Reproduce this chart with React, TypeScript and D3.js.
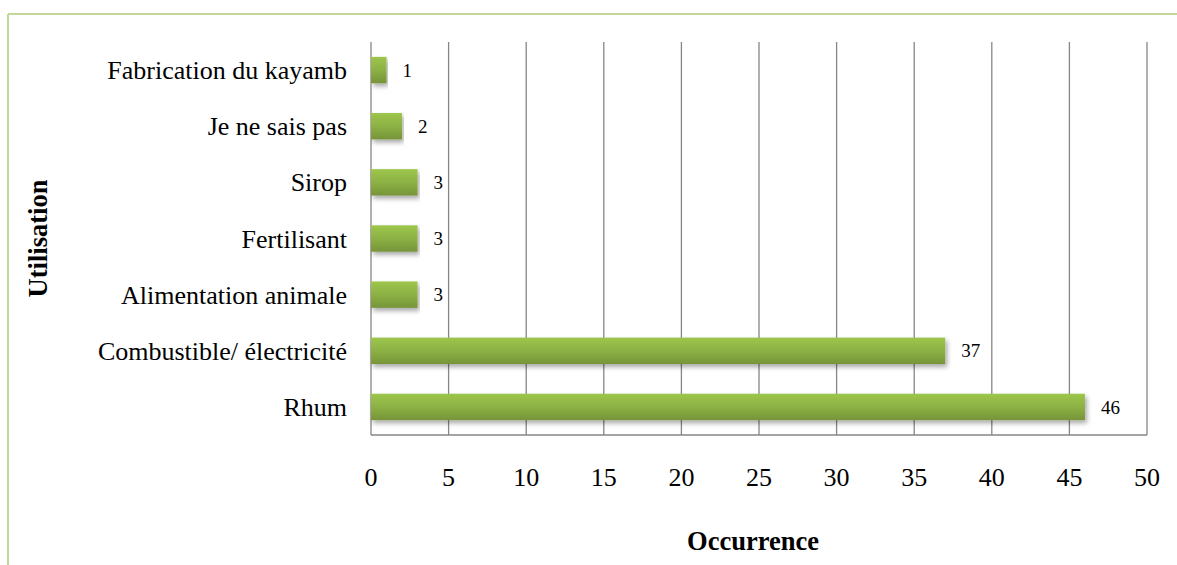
import React from "react";
import * as d3 from "d3";

// chart data
const categories = [
  "Fabrication du kayamb",
  "Je ne sais pas",
  "Sirop",
  "Fertilisant",
  "Alimentation animale",
  "Combustible/ électricité",
  "Rhum",
];
const occurrences = [1, 2, 3, 3, 3, 37, 46];
const xTicks = [0, 5, 10, 15, 20, 25, 30, 35, 40, 45, 50];

const W = 1177;
const H = 565;
const plot = { left: 371, right: 1147, top: 42, bottom: 435 };
const font = "'Liberation Serif', 'Times New Roman', serif";

const App = () => {
  const x = d3.scaleLinear().domain([0, 50]).range([plot.left, plot.right]);
  const y = d3
    .scaleBand()
    .domain(categories)
    .range([plot.top, plot.bottom])
    .paddingInner(0.53)
    .paddingOuter(0.265);

  return (
    <svg
      width={W}
      height={H}
      style={{ position: "absolute", left: 0, top: 0, background: "#fff" }}
    >
      <defs>
        <linearGradient id="barGrad" x1="0" y1="0" x2="0" y2="1">
          <stop offset="0" stopColor="#9dc64c" />
          <stop offset="0.5" stopColor="#8cb144" />
          <stop offset="1" stopColor="#779439" />
        </linearGradient>
        <filter id="shadow" x="-5%" y="-30%" width="110%" height="180%">
          <feGaussianBlur in="SourceAlpha" stdDeviation="2.5" />
          <feOffset dx="2" dy="3" result="b" />
          <feComponentTransfer>
            <feFuncA type="linear" slope="0.35" />
          </feComponentTransfer>
          <feMerge>
            <feMergeNode />
            <feMergeNode in="SourceGraphic" />
          </feMerge>
        </filter>
      </defs>

      {/* outer frame */}
      <line x1={8} y1={14} x2={W} y2={14} stroke="#c3d69b" strokeWidth={2} />
      <line x1={8} y1={14} x2={8} y2={H} stroke="#c3d69b" strokeWidth={2} />

      {/* grid lines */}
      {xTicks.map((t) => (
        <line
          key={t}
          x1={x(t)}
          x2={x(t)}
          y1={plot.top}
          y2={plot.bottom}
          stroke="#868686"
          strokeWidth={1.3}
        />
      ))}
      <line
        x1={plot.left}
        x2={plot.right}
        y1={plot.bottom}
        y2={plot.bottom}
        stroke="#868686"
        strokeWidth={1.3}
      />

      {/* bars */}
      {categories.map((c, i) => (
        <rect
          key={c}
          x={x(0)}
          y={y(c)}
          width={x(occurrences[i]) - x(0)}
          height={y.bandwidth()}
          fill="url(#barGrad)"
          filter="url(#shadow)"
        />
      ))}

      {/* value labels */}
      {categories.map((c, i) => (
        <text
          key={c}
          x={x(occurrences[i]) + 16}
          y={(y(c) ?? 0) + y.bandwidth() / 2}
          dy="0.35em"
          fontFamily={font}
          fontSize={19}
          fill="#000"
        >
          {occurrences[i]}
        </text>
      ))}

      {/* category labels */}
      {categories.map((c) => (
        <text
          key={c}
          x={347}
          y={(y(c) ?? 0) + y.bandwidth() / 2}
          dy="0.35em"
          textAnchor="end"
          fontFamily={font}
          fontSize={26}
          fill="#000"
        >
          {c}
        </text>
      ))}

      {/* x tick labels */}
      {xTicks.map((t) => (
        <text
          key={t}
          x={x(t)}
          y={477}
          dy="0.35em"
          textAnchor="middle"
          fontFamily={font}
          fontSize={26}
          fill="#000"
        >
          {t}
        </text>
      ))}

      {/* axis titles */}
      <text
        x={753}
        y={541}
        dy="0.35em"
        textAnchor="middle"
        fontFamily={font}
        fontSize={26.5}
        fontWeight="bold"
      >
        Occurrence
      </text>
      <text
        transform={`translate(38,${(plot.top + plot.bottom) / 2}) rotate(-90)`}
        dy="0.35em"
        textAnchor="middle"
        fontFamily={font}
        fontSize={26.5}
        fontWeight="bold"
      >
        Utilisation
      </text>
    </svg>
  );
};

export default App;
